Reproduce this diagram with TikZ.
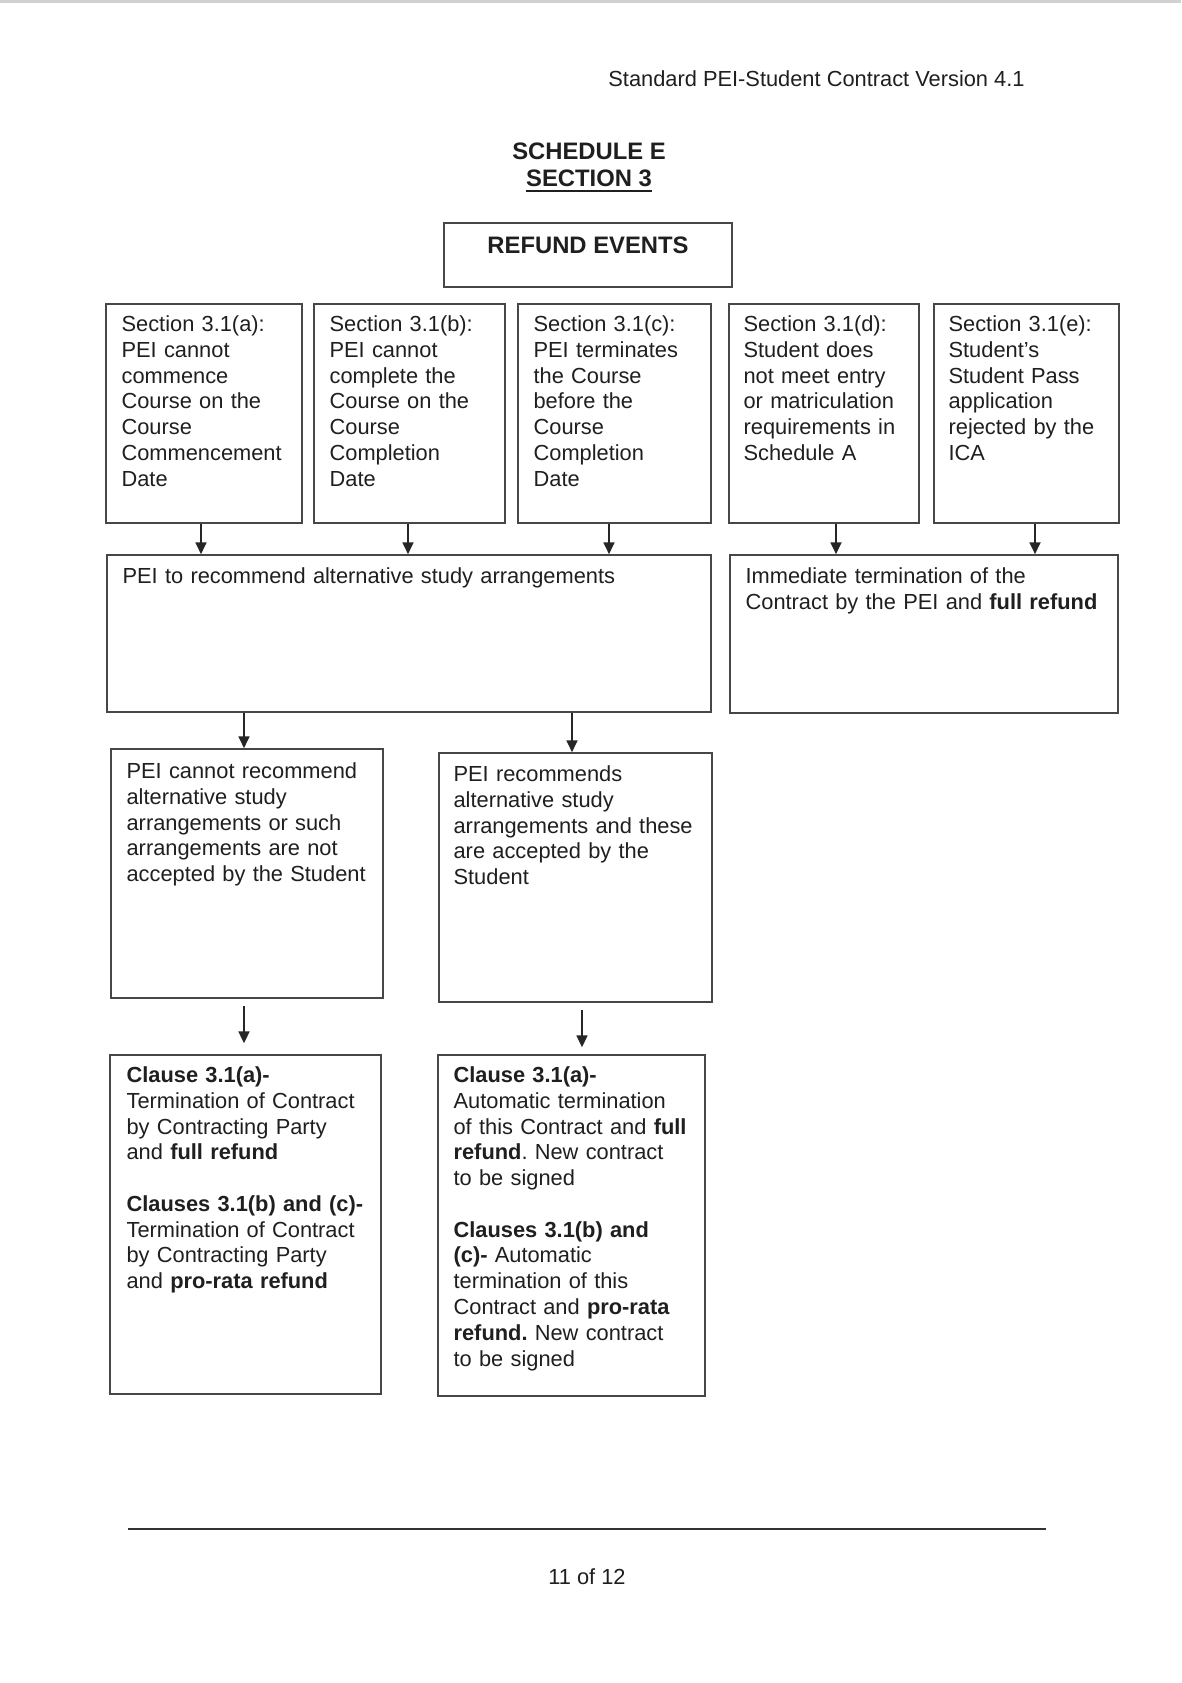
\documentclass[tikz,border=0pt]{standalone}
\usepackage{fontspec}
\setmainfont{Liberation Sans}
\usetikzlibrary{arrows.meta,fit,calc}
\newcommand\thickul[1]{\setbox0\hbox{#1}\rlap{\rule[-2.4pt]{\wd0}{1pt}}\box0}
\frenchspacing
\begin{document}
\begin{tikzpicture}[x=0.504pt,y=-0.504pt,
  box/.style={draw=black!72, line width=0.8pt, inner sep=0pt},
  txt/.style={anchor=north west, inner sep=0pt, align=left, text=black!88,
    font=\fontsize{11}{13}\selectfont\frenchspacing},
  arr/.style={draw=black!85, line width=1pt, -{Triangle[length=6pt,width=5.5pt]}}
]
\useasboundingbox (0,0) rectangle (1181,1683);
\fill[white] (0,0) rectangle (1181,1683);
\fill[black!18] (0,0) rectangle (1181,3);

% header
\node[anchor=base west, inner sep=0pt, text=black!88, font=\fontsize{11}{13}\selectfont]
  (hdr) at (608,86) {Standard PEI-Student Contract Version 4.1};

% title
\node[anchor=north, align=center, inner sep=0pt, text=black!88,
  font=\bfseries\fontsize{12}{14}\selectfont] (title) at (589,142)
  {SCHEDULE E\\\thickul{SECTION 3}};

% refund events
\node[box, fit={(444,223)(732,287)}] (RE) {};
\node[anchor=north, inner sep=0pt, text=black!88, font=\bfseries\fontsize{12}{14}\selectfont]
  (REt) at ($(RE.north)+(0,14)$) {REFUND EVENTS};

% row 1
\node[box, fit={(106,304)(302,523)}] (A) {};
\node[box, fit={(314,304)(505,523)}] (B) {};
\node[box, fit={(518,304)(711,523)}] (C) {};
\node[box, fit={(729,304)(919,523)}] (D) {};
\node[box, fit={(934,304)(1119,523)}] (E) {};
\node[txt, text width=86pt] (At) at ($(A.north west)+(16,12)$)
  {Section 3.1(a):\\PEI cannot\\commence\\Course on the\\Course\\Commencement\\Date};
\node[txt, text width=86pt] (Bt) at ($(B.north west)+(16,12)$)
  {Section 3.1(b):\\PEI cannot\\complete the\\Course on the\\Course\\Completion\\Date};
\node[txt, text width=86pt] (Ct) at ($(C.north west)+(16,12)$)
  {Section 3.1(c):\\PEI terminates\\the Course\\before the\\Course\\Completion\\Date};
\node[txt, text width=86pt] (Dt) at ($(D.north west)+(15,12)$)
  {Section 3.1(d):\\Student does\\not meet entry\\or matriculation\\requirements in\\Schedule A};
\node[txt, text width=84pt] (Et) at ($(E.north west)+(15,12)$)
  {Section 3.1(e):\\Student’s\\Student Pass\\application\\rejected by the\\ICA};

% row 2
\node[box, fit={(107,555)(711,712)}] (L2) {};
\node[box, fit={(730,555)(1118,713)}] (R2) {};
\node[txt, text width=290pt] (L2t) at ($(L2.north west)+(16,13)$)
  {PEI to recommend alternative study arrangements};
\node[txt, text width=186pt] (R2t) at ($(R2.north west)+(16,13)$)
  {Immediate termination of the\\Contract by the PEI and \textbf{full refund}};

% row 3
\node[box, fit={(111,749)(383,998)}] (L3) {};
\node[box, fit={(439,753)(712,1002)}] (R3) {};
\node[txt, text width=130pt] (L3t) at ($(L3.north west)+(16,14)$)
  {PEI cannot recommend\\alternative study\\arrangements or such\\arrangements are not\\accepted by the Student};
\node[txt, text width=130pt] (R3t) at ($(R3.north west)+(15,13)$)
  {PEI recommends\\alternative study\\arrangements and these\\are accepted by the\\Student};

% row 4
\node[box, fit={(110,1055)(381,1394)}] (L4) {};
\node[box, fit={(438,1055)(705,1396)}] (R4) {};
\node[txt, text width=128pt] (L4t) at ($(L4.north west)+(17,12)$)
  {\textbf{Clause 3.1(a)-}\\Termination of Contract\\by Contracting Party\\and \textbf{full refund}\\[13pt]%
   \textbf{Clauses 3.1(b) and (c)-}\\Termination of Contract\\by Contracting Party\\and \textbf{pro-rata refund}};
\node[txt, text width=128pt] (R4t) at ($(R4.north west)+(16,12)$)
  {\textbf{Clause 3.1(a)-}\\Automatic termination\\of this Contract and \textbf{full}\\\textbf{refund}. New contract\\to be signed\\[13pt]%
   \textbf{Clauses 3.1(b) and}\\\textbf{(c)-} Automatic\\termination of this\\Contract and \textbf{pro-rata}\\\textbf{refund.} New contract\\to be signed};

% arrow x positions
\coordinate (x1) at (201,0);
\coordinate (x2) at (408,0);
\coordinate (x3) at (609,0);
\coordinate (x4) at (836,0);
\coordinate (x5) at (1035,0);
\coordinate (x6) at (244,0);
\coordinate (x7) at (572,0);
\coordinate (x8) at (582,0);

\draw[arr] (A.south -| x1) -- (L2.north -| x1);
\draw[arr] (B.south -| x2) -- (L2.north -| x2);
\draw[arr] (C.south -| x3) -- (L2.north -| x3);
\draw[arr] (D.south -| x4) -- (R2.north -| x4);
\draw[arr] (E.south -| x5) -- (R2.north -| x5);
\draw[arr] (L2.south -| x6) -- (L3.north -| x6);
\draw[arr] (L2.south -| x7) -- (R3.north -| x7);
\draw[arr, shorten <=3.5pt, shorten >=5.5pt] (L3.south -| x6) -- (L4.north -| x6);
\draw[arr, shorten <=3.5pt, shorten >=3.5pt] (R3.south -| x8) -- (R4.north -| x8);

% footer
\draw[line width=1.3pt, black!80] (128,1529) coordinate (f1) -- (1046,1529) coordinate (f2);
\node[anchor=base, inner sep=0pt, text=black!88, font=\fontsize{11}{13}\selectfont]
  (pg) at (587,1584) {11 of 12};
\end{tikzpicture}
\end{document}
